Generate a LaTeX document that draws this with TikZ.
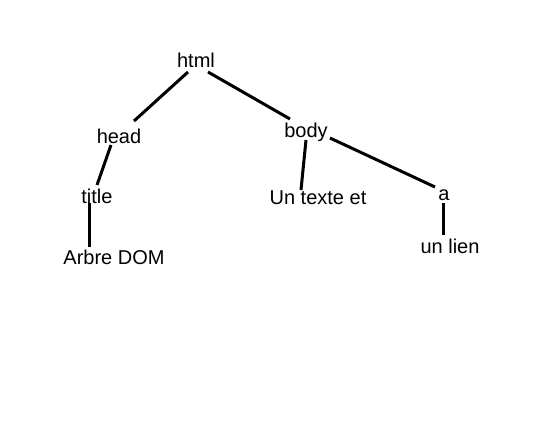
\documentclass[tikz,border=0pt]{standalone}
\usepackage{fontspec}
\setmainfont{Liberation Sans}
\usetikzlibrary{calc}
\tikzstyle{domnode} = [inner sep=0pt, anchor=base, font=\fontsize{20}{24}\selectfont]
\tikzstyle{domedge} = [line width=3pt]

\begin{document}
\begin{tikzpicture}[x=1pt, y=1pt]
  \useasboundingbox (0,0) rectangle (537,424);
  \node[domnode] (html) at (196,356) {html};
  \node[domnode] (head) at (119,281) {head};
  \node[domnode] (title) at (97,221) {title};
  \node[domnode] (dom) at (114,160) {Arbre DOM};
  \node[domnode] (body) at (306,287) {body};
  \node[domnode] (texte) at (318,220) {Un texte et};
  \node[domnode] (a) at (444,224) {a};
  \node[domnode] (lien) at (450,171) {un lien};

  \draw[domedge] ([shift={(-8,-4)}]html.base) -- ([shift={(15,22)}]head.base);
  \draw[domedge] ([shift={(12,-4)}]html.base) -- ([shift={(-16,18)}]body.base);
  \draw[domedge] ([shift={(-8,-2)}]head.base) -- ([shift={(0,18)}]title.base);
  \draw[domedge] ([shift={(-8,0)}]title.base) -- ([shift={(-25,17)}]dom.base);
  \draw[domedge] ([shift={(0,-3)}]body.base) -- ([shift={(-17,14)}]texte.base);
  \draw[domedge] ([shift={(24,-1)}]body.base) -- ([shift={(-9,13)}]a.base);
  \draw[domedge] ([shift={(-1,-3)}]a.base) -- ([shift={(-7,18)}]lien.base);
\end{tikzpicture}
\end{document}
